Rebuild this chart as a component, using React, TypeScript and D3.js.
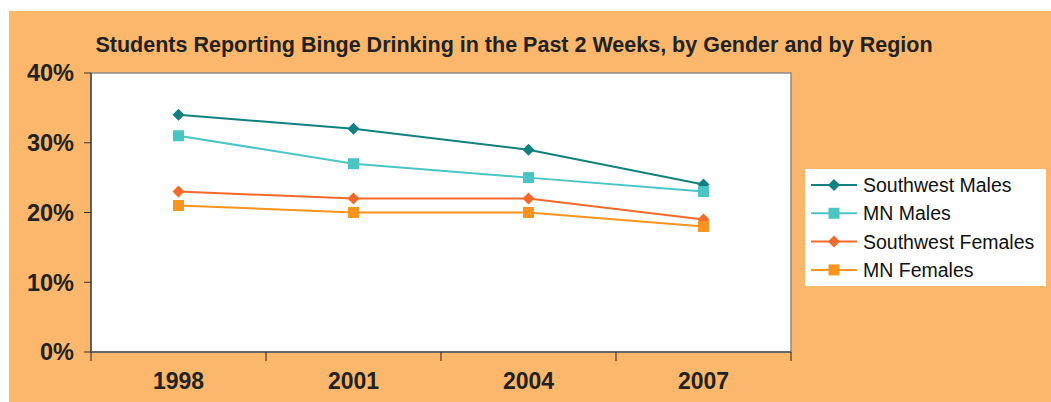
import React from "react";
import * as d3 from "d3";

const years = ["1998", "2001", "2004", "2007"];
const swMales = [34, 32, 29, 24];
const mnMales = [31, 27, 25, 23];
const swFemales = [23, 22, 22, 19];
const mnFemales = [21, 20, 20, 18];
const yTicks = [0, 10, 20, 30, 40];

const series = [
  { name: "Southwest Males", values: swMales, color: "#11807f", shape: "diamond" },
  { name: "MN Males", values: mnMales, color: "#4bc4c4", shape: "square" },
  { name: "Southwest Females", values: swFemales, color: "#f26a2a", shape: "diamond" },
  { name: "MN Females", values: mnFemales, color: "#f8941f", shape: "square" },
];

const width = 1051;
const height = 402;
const plot = { left: 91, right: 791, top: 73, bottom: 352 };

const Marker = ({ x, y, shape, color }) => {
  if (shape === "diamond") {
    const r = 6;
    return <path d={`M${x},${y - r}L${x + r},${y}L${x},${y + r}L${x - r},${y}Z`} fill={color} />;
  }
  const s = 5.5;
  return <rect x={x - s} y={y - s} width={s * 2} height={s * 2} fill={color} />;
};

export default function App() {
  const x = d3.scaleBand().domain(years).range([plot.left, plot.right]);
  const y = d3.scaleLinear().domain([0, 40]).range([plot.bottom, plot.top]);
  const line = d3
    .line<number>()
    .x((_, i) => x(years[i])! + x.bandwidth() / 2)
    .y((d) => y(d));

  const boundaries = years.map((yr) => x(yr)!).concat([plot.right]);

  return (
    <svg
      width={width}
      height={height}
      style={{ position: "absolute", left: 0, top: 0, fontFamily: "Arial, 'Liberation Sans', sans-serif" }}
    >
      <rect x={0} y={0} width={width} height={height} fill="#ffffff" />
      <rect x={9} y={11} width={width - 9} height={height - 11} fill="#fbb86c" />

      <text x={514} y={52} textAnchor="middle" fontSize={21.5} fontWeight="bold" fill="#222">
        Students Reporting Binge Drinking in the Past 2 Weeks, by Gender and by Region
      </text>

      {/* plot area */}
      <rect
        x={plot.left}
        y={plot.top}
        width={plot.right - plot.left}
        height={plot.bottom - plot.top}
        fill="#ffffff"
        stroke="#8a8a8a"
        strokeWidth={1.5}
      />
      <line x1={plot.left} x2={plot.left} y1={plot.top} y2={plot.bottom} stroke="#333" strokeWidth={1.2} />
      <line x1={plot.left} x2={plot.right} y1={plot.bottom} y2={plot.bottom} stroke="#666" strokeWidth={2} />

      {/* y axis */}
      {yTicks.map((t) => (
        <g key={t}>
          <line x1={plot.left - 7} x2={plot.left} y1={y(t)} y2={y(t)} stroke="#333" strokeWidth={1} />
          <text x={74} y={y(t)} dy="0.36em" textAnchor="end" fontSize={23.5} fontWeight="bold" fill="#222">
            {t}%
          </text>
        </g>
      ))}

      {/* x axis */}
      {boundaries.map((b, i) => (
        <line key={i} x1={b} x2={b} y1={plot.bottom} y2={plot.bottom + 9} stroke="#222" strokeWidth={1} />
      ))}
      {years.map((yr) => (
        <text
          key={yr}
          x={x(yr)! + x.bandwidth() / 2}
          y={389}
          textAnchor="middle"
          fontSize={23}
          fontWeight="bold"
          fill="#222"
        >
          {yr}
        </text>
      ))}

      {/* series */}
      {series.map((s) => (
        <g key={s.name}>
          <path d={line(s.values)!} fill="none" stroke={s.color} strokeWidth={2} />
          {s.values.map((v, i) => (
            <Marker
              key={i}
              x={x(years[i])! + x.bandwidth() / 2}
              y={y(v)}
              shape={s.shape}
              color={s.color}
            />
          ))}
        </g>
      ))}

      {/* legend */}
      <rect x={805} y={169} width={241} height={117} fill="#ffffff" />
      {series.map((s, i) => {
        const cy = 185 + i * 28.3;
        return (
          <g key={s.name}>
            <line x1={811} x2={857} y1={cy} y2={cy} stroke={s.color} strokeWidth={2} />
            <Marker x={834} y={cy} shape={s.shape} color={s.color} />
            <text x={863} y={cy} dy="0.36em" fontSize={19.5} fill="#111">
              {s.name}
            </text>
          </g>
        );
      })}
    </svg>
  );
}
